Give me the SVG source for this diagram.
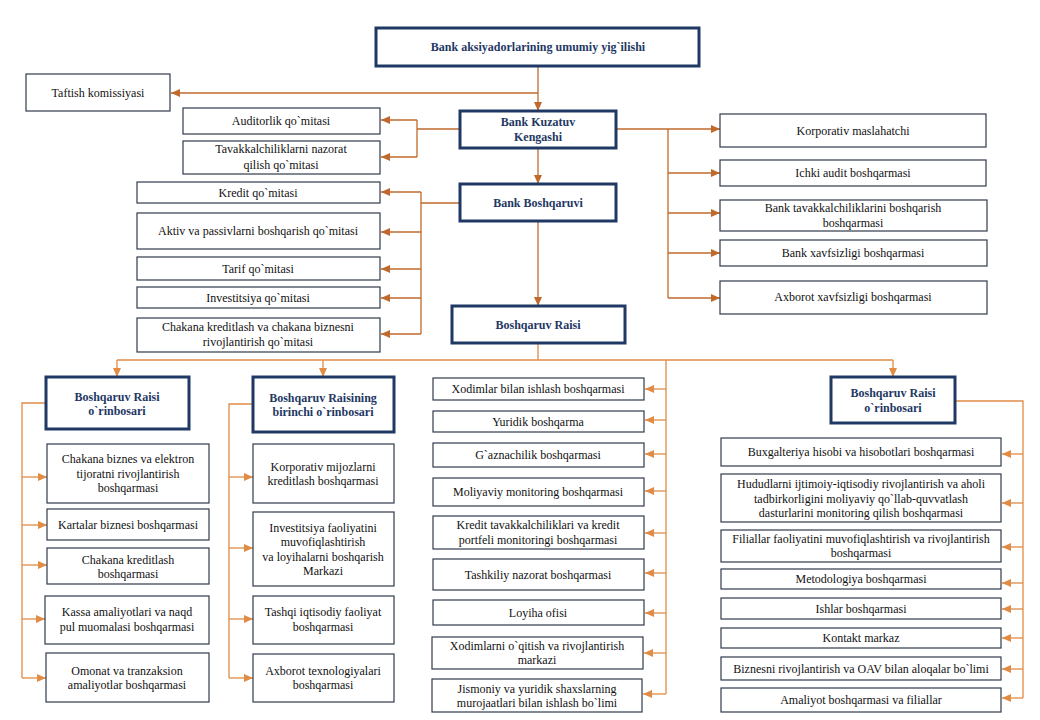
<svg xmlns="http://www.w3.org/2000/svg" width="1040" height="720" viewBox="0 0 1040 720" font-family="'Liberation Serif', 'Times New Roman', 'DejaVu Serif', serif">
<style>
.b{fill:#fff;stroke:#2F3B4C;stroke-width:1.2}
.h{fill:#fff;stroke:#1F3864;stroke-width:3}
text{font-family:'Liberation Serif','Times New Roman','DejaVu Serif',serif;font-size:12px;fill:#111;text-anchor:middle}
.ht{font-weight:bold;fill:#1F3864}
.c1{fill:none;stroke:#BF6A2C;stroke-width:1.3}
.c2{fill:none;stroke:#E08C45;stroke-width:1.3}
</style>
<defs>
<marker id="a1" markerUnits="userSpaceOnUse" markerWidth="9" markerHeight="8" refX="9" refY="4" orient="auto"><path d="M0,0 L9,4 L0,8 z" fill="#BF6A2C"/></marker>
<marker id="a2" markerUnits="userSpaceOnUse" markerWidth="9" markerHeight="8" refX="9" refY="4" orient="auto"><path d="M0,0 L9,4 L0,8 z" fill="#E08C45"/></marker>
</defs>
<rect width="1040" height="720" fill="#fff"/>
<g id="connectors">
<path class="c1" d="M538,66 V111" marker-end="url(#a1)"/>
<path class="c1" d="M538,93 H171" marker-end="url(#a1)"/>
<path class="c1" d="M460,129 H417 M417,120 V157"/>
<path class="c1" d="M417,120 H381" marker-end="url(#a1)"/>
<path class="c1" d="M417,157 H381" marker-end="url(#a1)"/>
<path class="c1" d="M616,129 H720" marker-end="url(#a1)"/>
<path class="c1" d="M668,129 V298"/>
<path class="c1" d="M668,173 H720" marker-end="url(#a1)"/>
<path class="c1" d="M668,213 H720" marker-end="url(#a1)"/>
<path class="c1" d="M668,253 H720" marker-end="url(#a1)"/>
<path class="c1" d="M668,298 H720" marker-end="url(#a1)"/>
<path class="c1" d="M538,148 V184" marker-end="url(#a1)"/>
<path class="c1" d="M460,203 H421 M421,192 V334"/>
<path class="c1" d="M421,192 H381" marker-end="url(#a1)"/>
<path class="c1" d="M421,232 H381" marker-end="url(#a1)"/>
<path class="c1" d="M421,269 H381" marker-end="url(#a1)"/>
<path class="c1" d="M421,298 H381" marker-end="url(#a1)"/>
<path class="c1" d="M421,334 H381" marker-end="url(#a1)"/>
<path class="c1" d="M538,221 V306" marker-end="url(#a1)"/>
<path class="c2" d="M538,343 V360 M117,360 H893"/>
<path class="c2" d="M117,360 V377" marker-end="url(#a2)"/>
<path class="c2" d="M323,360 V377" marker-end="url(#a2)"/>
<path class="c2" d="M893,360 V377" marker-end="url(#a2)"/>
<path class="c2" d="M666,360 V694"/>
<path class="c2" d="M666,389 H645" marker-end="url(#a2)"/>
<path class="c2" d="M666,420 H645" marker-end="url(#a2)"/>
<path class="c2" d="M666,454 H645" marker-end="url(#a2)"/>
<path class="c2" d="M666,491 H645" marker-end="url(#a2)"/>
<path class="c2" d="M666,533 H645" marker-end="url(#a2)"/>
<path class="c2" d="M666,573 H645" marker-end="url(#a2)"/>
<path class="c2" d="M666,613 H645" marker-end="url(#a2)"/>
<path class="c2" d="M666,653 H644" marker-end="url(#a2)"/>
<path class="c2" d="M666,694 H643" marker-end="url(#a2)"/>
<path class="c2" d="M46,403 H22 V678"/>
<path class="c2" d="M22,477 H47" marker-end="url(#a2)"/>
<path class="c2" d="M22,525 H47" marker-end="url(#a2)"/>
<path class="c2" d="M22,565 H47" marker-end="url(#a2)"/>
<path class="c2" d="M22,619 H45" marker-end="url(#a2)"/>
<path class="c2" d="M22,678 H46" marker-end="url(#a2)"/>
<path class="c2" d="M253,404 H229 V678"/>
<path class="c2" d="M229,477 H253" marker-end="url(#a2)"/>
<path class="c2" d="M229,548 H253" marker-end="url(#a2)"/>
<path class="c2" d="M229,619 H253" marker-end="url(#a2)"/>
<path class="c2" d="M229,678 H253" marker-end="url(#a2)"/>
<path class="c2" d="M955,401 H1023 V698"/>
<path class="c2" d="M1023,454 H1002" marker-end="url(#a2)"/>
<path class="c2" d="M1023,503 H1002" marker-end="url(#a2)"/>
<path class="c2" d="M1023,547 H1002" marker-end="url(#a2)"/>
<path class="c2" d="M1023,583 H1002" marker-end="url(#a2)"/>
<path class="c2" d="M1023,609 H1002" marker-end="url(#a2)"/>
<path class="c2" d="M1023,638 H1002" marker-end="url(#a2)"/>
<path class="c2" d="M1023,669 H1002" marker-end="url(#a2)"/>
<path class="c2" d="M1023,698 H1002" marker-end="url(#a2)"/>
</g>
<g id="n-aksiyadorlar"><rect class="h" x="376" y="28" width="323" height="38"/><text class="ht" x="538" y="51">Bank aksiyadorlarining umumiy yig`ilishi</text></g>
<g id="n-taftish"><rect class="b" x="26" y="74" width="144" height="37"/><text x="98" y="96.5">Taftish komissiyasi</text></g>
<g id="n-kengash"><rect class="h" x="460" y="111" width="156" height="37"/><text class="ht" x="538" y="126">Bank Kuzatuv</text><text class="ht" x="538" y="141">Kengashi</text></g>
<g id="n-auditorlik"><rect class="b" x="183" y="108" width="197" height="26"/><text x="281" y="125">Auditorlik qo`mitasi</text></g>
<g id="n-tavakkal-nazorat"><rect class="b" x="183" y="141" width="197" height="33"/><text x="281" y="153">Tavakkalchiliklarni  nazorat</text><text x="281" y="169">qilish qo`mitasi</text></g>
<g id="n-korporativ-maslahatchi"><rect class="b" x="720" y="114" width="266" height="33"/><text x="853" y="134.5">Korporativ maslahatchi</text></g>
<g id="n-ichki-audit"><rect class="b" x="720" y="160" width="266" height="26"/><text x="853" y="177">Ichki audit boshqarmasi</text></g>
<g id="n-bank-tavakkal"><rect class="b" x="720" y="200" width="267" height="31"/><text x="853" y="212">Bank tavakkalchiliklarini  boshqarish</text><text x="853" y="227">boshqarmasi</text></g>
<g id="n-bank-xavfsizligi"><rect class="b" x="720" y="240" width="267" height="26"/><text x="853" y="257">Bank xavfsizligi  boshqarmasi</text></g>
<g id="n-axborot-xavfsizligi"><rect class="b" x="720" y="281" width="267" height="33"/><text x="853" y="301">Axborot xavfsizligi  boshqarmasi</text></g>
<g id="n-boshqaruvi"><rect class="h" x="460" y="184" width="156" height="37"/><text class="ht" x="538" y="206.5">Bank Boshqaruvi</text></g>
<g id="n-kredit-q"><rect class="b" x="137" y="182" width="243" height="21"/><text x="258" y="196.5">Kredit qo`mitasi</text></g>
<g id="n-aktiv"><rect class="b" x="137" y="213" width="243" height="36"/><text x="258" y="235">Aktiv va passivlarni boshqarish qo`mitasi</text></g>
<g id="n-tarif"><rect class="b" x="137" y="257" width="243" height="23"/><text x="258" y="272.5">Tarif qo`mitasi</text></g>
<g id="n-investitsiya-q"><rect class="b" x="137" y="287" width="243" height="21"/><text x="258" y="301.5">Investitsiya qo`mitasi</text></g>
<g id="n-chakana-q"><rect class="b" x="137" y="318" width="243" height="34"/><text x="258" y="331">Chakana kreditlash va chakana biznesni</text><text x="258" y="346">rivojlantirish qo`mitasi</text></g>
<g id="n-raisi"><rect class="h" x="452" y="306" width="173" height="37"/><text class="ht" x="538" y="328.5">Boshqaruv  Raisi</text></g>
<g id="n-orinbosar-1"><rect class="h" x="46" y="377" width="143" height="52"/><text class="ht" x="117" y="401">Boshqaruv Raisi</text><text class="ht" x="117" y="415">o`rinbosari</text></g>
<g id="n-birinchi-orinbosar"><rect class="h" x="253" y="377" width="141" height="55"/><text class="ht" x="323" y="402">Boshqaruv Raisining</text><text class="ht" x="323" y="416">birinchi o`rinbosari</text></g>
<g id="n-orinbosar-2"><rect class="h" x="831" y="377" width="124" height="46"/><text class="ht" x="893" y="397">Boshqaruv Raisi</text><text class="ht" x="893" y="412">o`rinbosari</text></g>
<g id="n-chakana-biznes"><rect class="b" x="47" y="444" width="162" height="59"/><text x="128" y="463">Chakana biznes va elektron</text><text x="128" y="477.5">tijoratni rivojlantirish</text><text x="128" y="492">boshqarmasi</text></g>
<g id="n-kartalar"><rect class="b" x="47" y="509" width="162" height="31"/><text x="128" y="528.5">Kartalar biznesi boshqarmasi</text></g>
<g id="n-chakana-kred"><rect class="b" x="47" y="548" width="162" height="36"/><text x="128" y="564">Chakana kreditlash</text><text x="128" y="578">boshqarmasi</text></g>
<g id="n-kassa"><rect class="b" x="45" y="596" width="164" height="48"/><text x="127" y="616">Kassa amaliyotlari va naqd</text><text x="127" y="631">pul muomalasi  boshqarmasi</text></g>
<g id="n-omonat"><rect class="b" x="46" y="653" width="163" height="49"/><text x="127" y="675">Omonat va tranzaksion</text><text x="127" y="689">amaliyotlar boshqarmasi</text></g>
<g id="n-korporativ-mijoz"><rect class="b" x="253" y="444" width="141" height="59"/><text x="323" y="471">Korporativ mijozlarni</text><text x="323" y="485">kreditlash boshqarmasi</text></g>
<g id="n-investitsiya-markaz"><rect class="b" x="253" y="512" width="141" height="74"/><text x="323" y="532">Investitsiya faoliyatini</text><text x="323" y="546">muvofiqlashtirish</text><text x="323" y="560.5">va loyihalarni boshqarish</text><text x="323" y="575">Markazi</text></g>
<g id="n-tashqi"><rect class="b" x="253" y="596" width="141" height="48"/><text x="323" y="616">Tashqi iqtisodiy faoliyat</text><text x="323" y="631">boshqarmasi</text></g>
<g id="n-axborot-texn"><rect class="b" x="253" y="654" width="141" height="48"/><text x="323" y="675">Axborot texnologiyalari</text><text x="323" y="689">boshqarmasi</text></g>
<g id="n-xodimlar"><rect class="b" x="433" y="378" width="211" height="22"/><text x="538" y="393">Xodimlar bilan ishlash boshqarmasi</text></g>
<g id="n-yuridik"><rect class="b" x="433" y="411" width="211" height="21"/><text x="538" y="425.5">Yuridik boshqarma</text></g>
<g id="n-gaznachilik"><rect class="b" x="433" y="443" width="211" height="24"/><text x="538" y="459">G`aznachilik boshqarmasi</text></g>
<g id="n-moliyaviy"><rect class="b" x="433" y="478" width="211" height="28"/><text x="538" y="496">Moliyaviy monitoring boshqarmasi</text></g>
<g id="n-kredit-tavakkal"><rect class="b" x="433" y="516" width="211" height="33"/><text x="538" y="529">Kredit tavakkalchiliklari  va kredit</text><text x="538" y="544">portfeli monitoringi  boshqarmasi</text></g>
<g id="n-tashkiliy"><rect class="b" x="433" y="559" width="211" height="31"/><text x="538" y="578.5">Tashkiliy nazorat boshqarmasi</text></g>
<g id="n-loyiha"><rect class="b" x="433" y="600" width="211" height="25"/><text x="538" y="616.5">Loyiha ofisi</text></g>
<g id="n-oqitish"><rect class="b" x="432" y="637" width="211" height="32"/><text x="537" y="650">Xodimlarni o`qitish va rivojlantirish</text><text x="537" y="664">markazi</text></g>
<g id="n-jismoniy"><rect class="b" x="432" y="679" width="210" height="33"/><text x="537" y="693">Jismoniy va yuridik shaxslarning</text><text x="537" y="707">murojaatlari  bilan ishlash bo`limi</text></g>
<g id="n-buxgalteriya"><rect class="b" x="721" y="438" width="280" height="28"/><text x="861" y="456">Buxgalteriya hisobi va hisobotlari boshqarmasi</text></g>
<g id="n-hududlar"><rect class="b" x="721" y="474" width="280" height="48"/><text x="861" y="488">Hududlarni ijtimoiy-iqtisodiy rivojlantirish va aholi</text><text x="861" y="502.5">tadbirkorligini  moliyaviy qo`llab-quvvatlash</text><text x="861" y="516.5">dasturlarini monitoring qilish boshqarmasi</text></g>
<g id="n-filiallar"><rect class="b" x="721" y="530" width="280" height="32"/><text x="861" y="543">Filiallar  faoliyatini muvofiqlashtirish va rivojlantirish</text><text x="861" y="557">boshqarmasi</text></g>
<g id="n-metodologiya"><rect class="b" x="721" y="569" width="280" height="20"/><text x="861" y="583">Metodologiya boshqarmasi</text></g>
<g id="n-ishlar"><rect class="b" x="721" y="598" width="280" height="21"/><text x="861" y="612.5">Ishlar boshqarmasi</text></g>
<g id="n-kontakt"><rect class="b" x="721" y="628" width="280" height="20"/><text x="861" y="642">Kontakt markaz</text></g>
<g id="n-biznesni"><rect class="b" x="721" y="657" width="280" height="23"/><text x="861" y="672.5">Biznesni rivojlantirish va OAV bilan aloqalar  bo`limi</text></g>
<g id="n-amaliyot"><rect class="b" x="721" y="688" width="280" height="24"/><text x="861" y="704">Amaliyot boshqarmasi va filiallar</text></g>
</svg>
